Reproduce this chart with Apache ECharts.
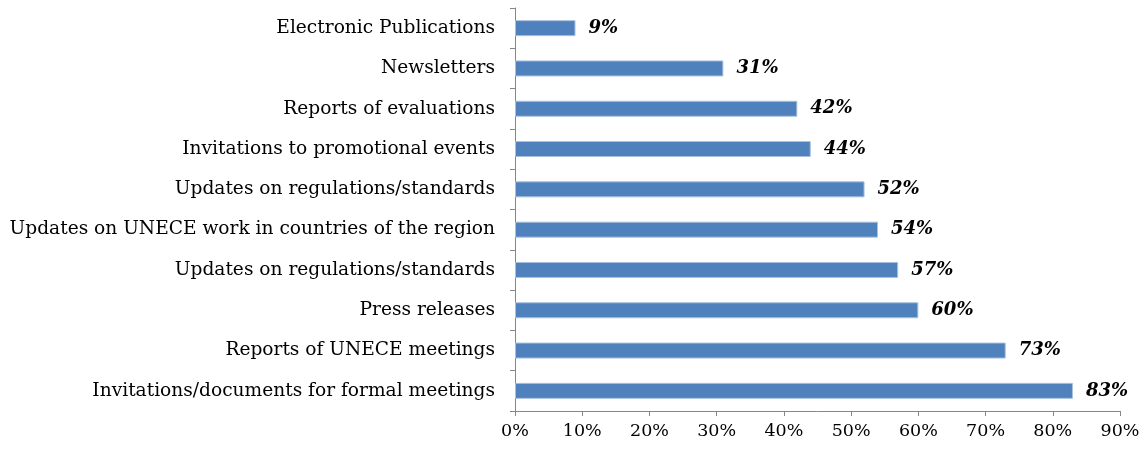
<!DOCTYPE html>
<html>
<head>
<meta charset="utf-8">
<script src="https://cdn.jsdelivr.net/npm/echarts@6/dist/echarts.min.js"></script>
<style>
  html, body { margin: 0; padding: 0; background: #fff; }
  #chart { width: 1146px; height: 453px; }
</style>
</head>
<body>
<div id="chart"></div>
<script>
// Information products, listed bottom to top
const categories = [
  'Invitations/documents for formal meetings',
  'Reports of UNECE meetings',
  'Press releases',
  'Updates on regulations/standards',
  'Updates on UNECE work in countries of the region',
  'Updates on regulations/standards',
  'Invitations to promotional events',
  'Reports of evaluations',
  'Newsletters',
  'Electronic Publications'
];
// Share of respondents, percent
const values = [83, 73, 60, 57, 54, 52, 44, 42, 31, 9];
const xTicks = [0, 10, 20, 30, 40, 50, 60, 70, 80, 90];

const serif = '"DejaVu Serif", serif';
const axisGray = '#868686';

const chart = echarts.init(document.getElementById('chart'));
chart.setOption({
  animation: false,
  grid: { left: 515, right: 26, top: 8, bottom: 42, containLabel: false },
  xAxis: {
    type: 'value',
    min: xTicks[0],
    max: xTicks[xTicks.length - 1],
    interval: 10,
    splitLine: { show: false },
    axisLine: { show: true, lineStyle: { color: axisGray, width: 1 } },
    axisTick: { show: true, length: 5, lineStyle: { color: axisGray } },
    axisLabel: {
      formatter: v => v + '%',
      color: '#000',
      fontFamily: serif,
      fontSize: 17.5,
      margin: 11
    }
  },
  yAxis: {
    type: 'category',
    data: categories,
    axisLine: { show: true, lineStyle: { color: axisGray, width: 1 } },
    axisTick: { show: true, length: 5, lineStyle: { color: axisGray } },
    axisLabel: {
      color: '#000',
      fontFamily: serif,
      fontSize: 18.6,
      margin: 20
    }
  },
  series: [{
    type: 'bar',
    data: values,
    barWidth: 16,
    itemStyle: { color: '#4F81BD', borderColor: '#A9C1DF', borderWidth: 1 },
    label: {
      show: true,
      position: 'right',
      distance: 13,
      formatter: p => p.value + '%',
      color: '#000',
      fontFamily: serif,
      fontWeight: 'bold',
      fontStyle: 'italic',
      fontSize: 18
    }
  }]
});
</script>
</body>
</html>
